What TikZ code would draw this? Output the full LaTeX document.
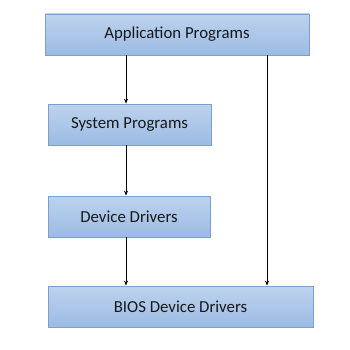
\documentclass[tikz,border=0pt]{standalone}
\usepackage{fontspec}
\setmainfont{Carlito}
\usetikzlibrary{arrows.meta}
\definecolor{boxtop}{HTML}{BDD3EE}
\definecolor{boxbot}{HTML}{9BBBE3}
\definecolor{boxline}{HTML}{7E9FCD}
\begin{document}
\begin{tikzpicture}[x=1pt,y=-1pt,
  blk/.style={draw=boxline,line width=0.8pt,top color=boxtop,bottom color=boxbot,
    inner sep=0pt,font=\fontsize{16.8}{20}\selectfont,text=black!90},
  arr/.style={-{Stealth[length=5pt,width=4pt]},line width=0.7pt}]
\useasboundingbox (0,0) rectangle (350,350);
\fill[white] (0,0) rectangle (350,350);
\node[blk,minimum width=264pt,minimum height=41pt] (app) at (177,34.5) {Application Programs};
\node[blk,minimum width=163pt,minimum height=41pt] (sys) at (129.5,124.5) {System Programs};
\node[blk,minimum width=162pt,minimum height=41pt] (dd) at (129,216.5) {Device Drivers};
\node[blk,minimum width=265pt,minimum height=41pt] (bios) at (180.5,306.5) {BIOS Device Drivers};
\coordinate (a1) at (126,55);
\coordinate (a2) at (267,55);
\draw[arr] (a1) -- (a1 |- sys.north);
\draw[arr] (sys.south -| a1) -- (a1 |- dd.north);
\draw[arr] (dd.south -| a1) -- (a1 |- bios.north);
\draw[arr] (a2) -- (a2 |- bios.north);
\end{tikzpicture}
\end{document}
